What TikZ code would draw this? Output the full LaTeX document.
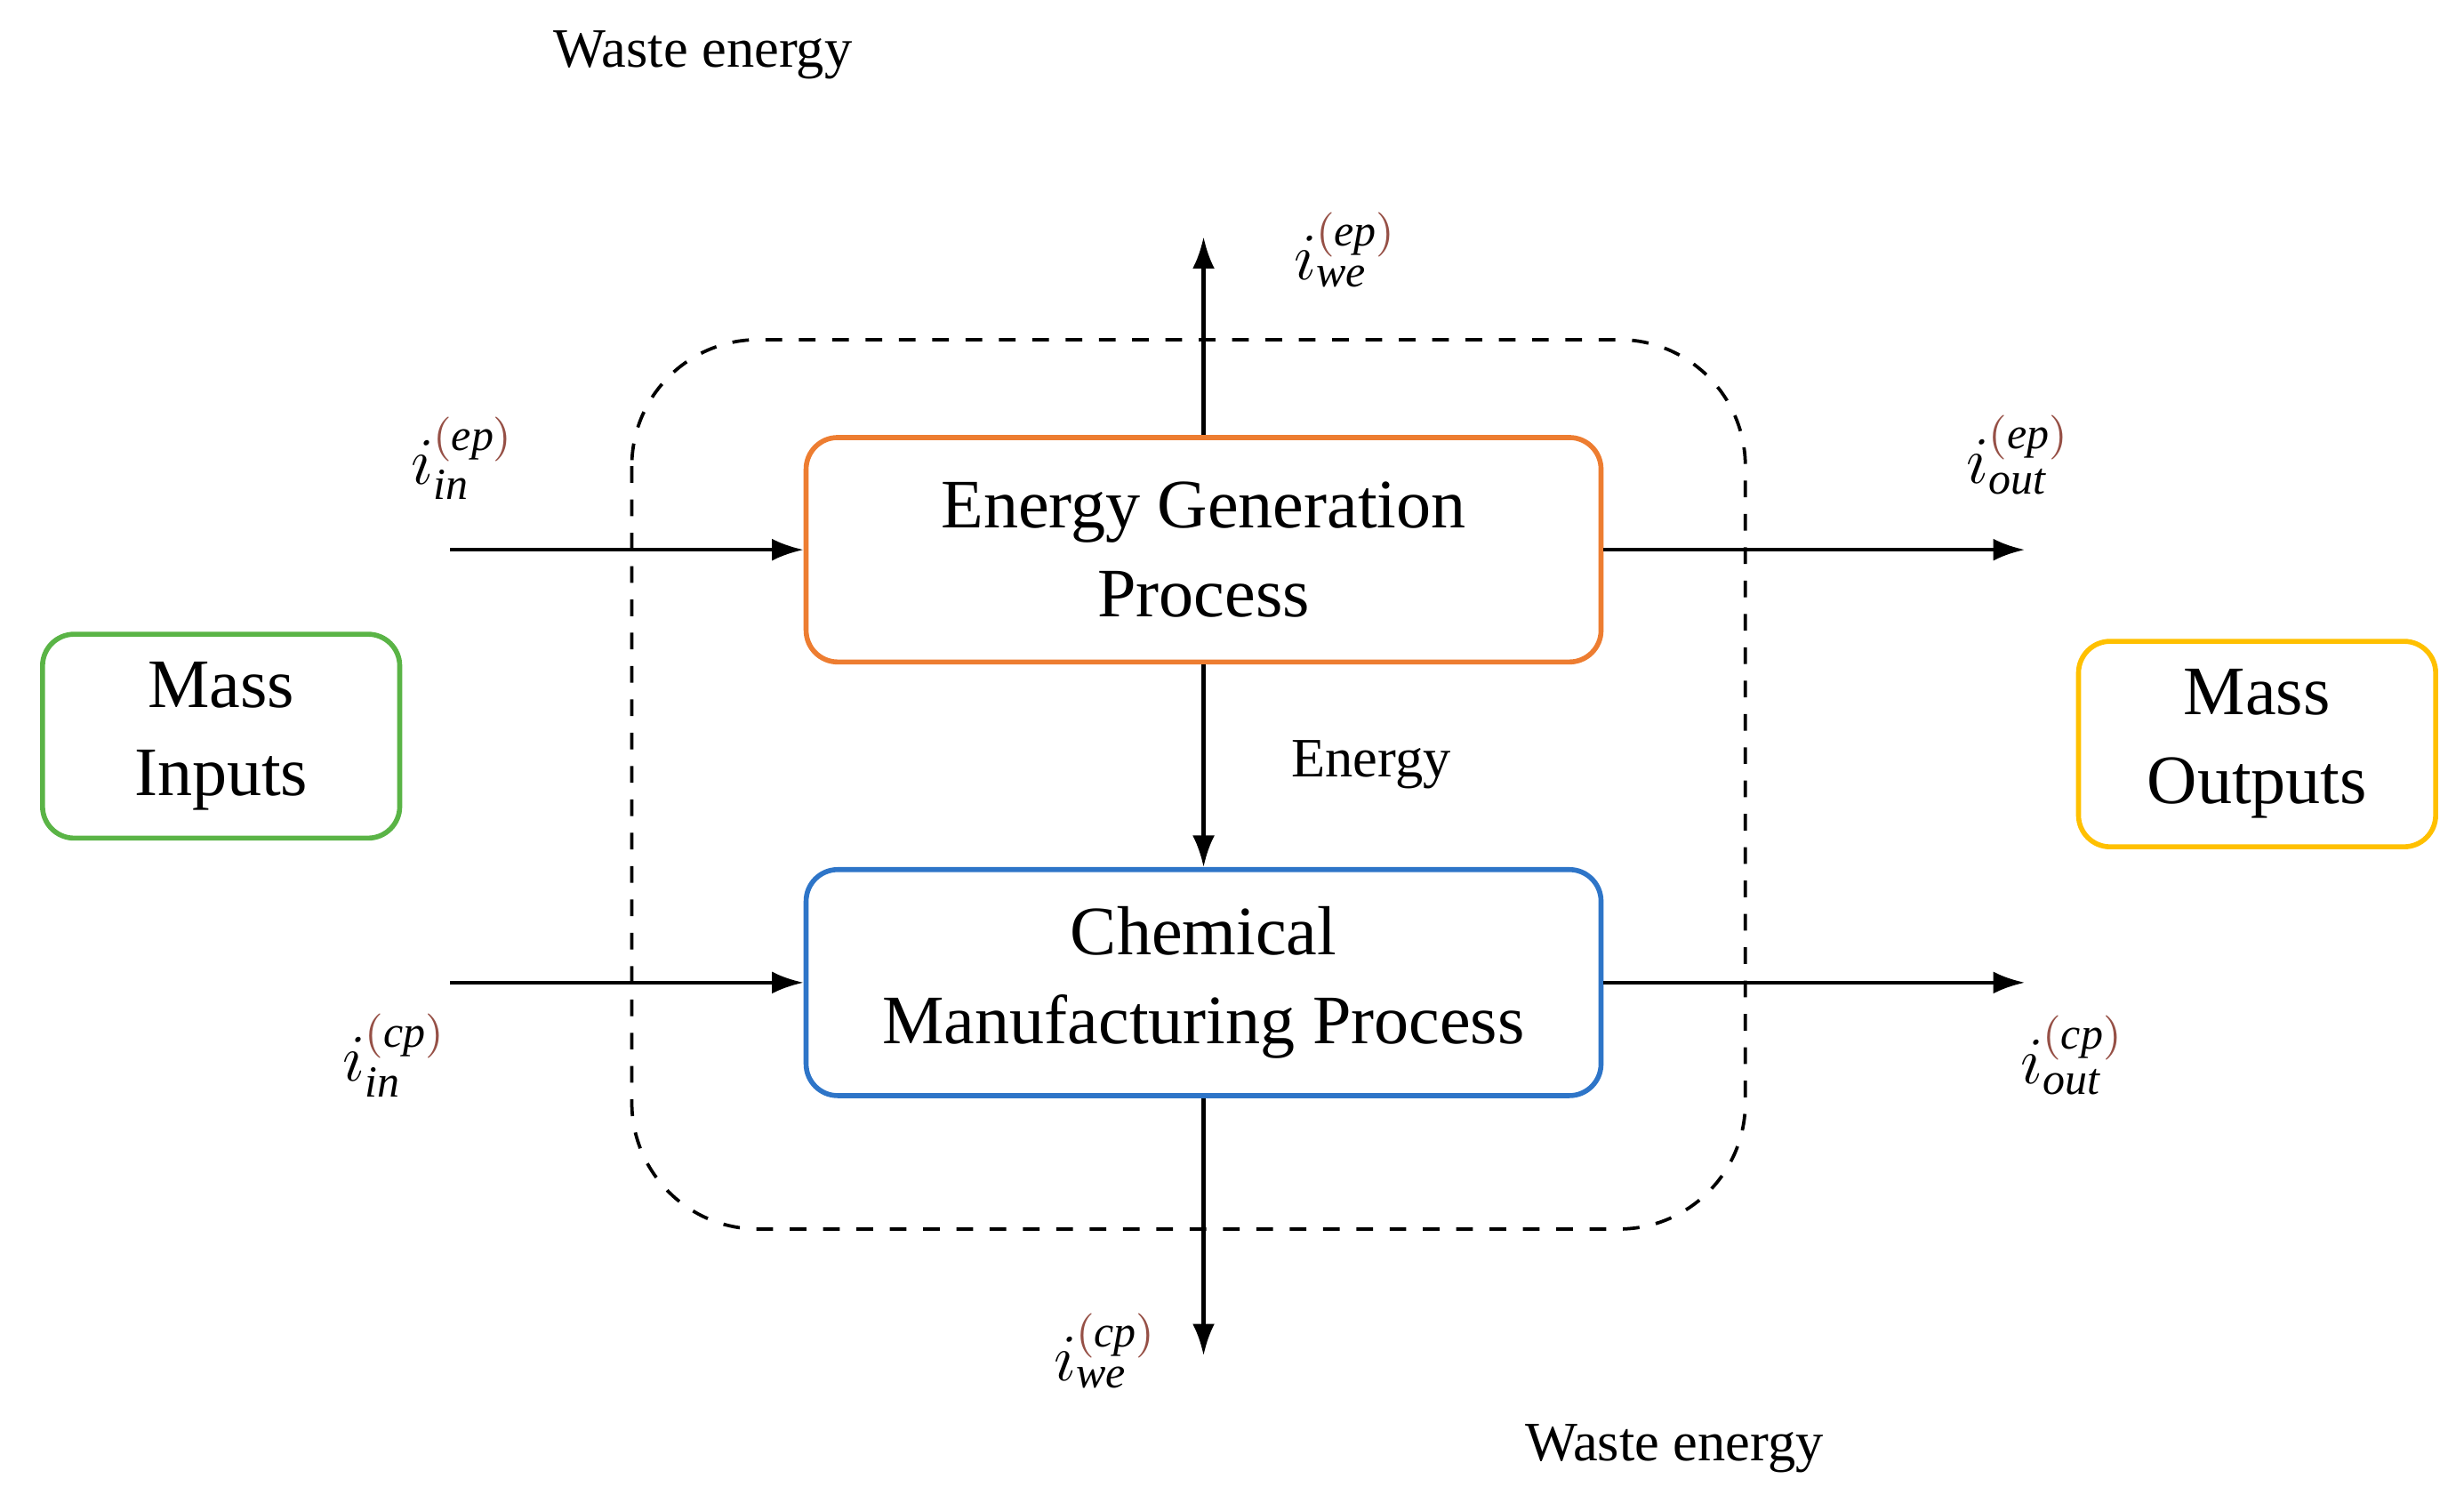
\documentclass[tikz,border=0pt]{standalone}
\usepackage{fontspec}
\setmainfont{Liberation Serif}
\usetikzlibrary{arrows.meta}
\definecolor{og}{RGB}{237,125,49}
\definecolor{bl}{RGB}{46,117,200}
\definecolor{gr}{RGB}{90,180,70}
\definecolor{yl}{RGB}{255,192,0}
\definecolor{br}{RGB}{150,80,70}
\newcommand{\lab}[2]{$i_{\mathit{#1}}^{\textcolor{br}{(}\mathit{#2}\textcolor{br}{)}}$}
\begin{document}
\begin{tikzpicture}[x=0.01cm,y=-0.01cm,
 box/.style={draw,rounded corners=0.2cm,line width=0.9pt,align=center,font=\fontsize{12.5}{16}\selectfont,inner sep=0pt},
 arr/.style={-{Latex[length=0.2cm,width=0.14cm]},line width=0.7pt},
 lbl/.style={font=\fontsize{10}{12}\selectfont},
 ilbl/.style={font=\fontsize{12}{14}\selectfont}]
\useasboundingbox (0,0) rectangle (1560,951);
\draw[dashed,rounded corners=0.8cm,line width=0.6pt] (400,215) rectangle (1105,778);
\node[box,draw=og,minimum width=5.03cm,minimum height=1.42cm] (ep) at (762,348) {Energy Generation\\Process};
\node[box,draw=bl,minimum width=5.03cm,minimum height=1.43cm] (cp) at (762,622) {Chemical\\Manufacturing Process};
\node[box,draw=gr,minimum width=2.26cm,minimum height=1.29cm] (mi) at (140,466) {Mass\\Inputs};
\node[box,draw=yl,minimum width=2.26cm,minimum height=1.3cm] (mo) at (1429,471) {Mass\\Outputs};
\coordinate (a1) at (285,348); \coordinate (a2) at (1282,348);
\coordinate (b1) at (285,622); \coordinate (b2) at (1282,622);
\coordinate (t) at (762,150); \coordinate (bt) at (762,858);
\draw[arr] (a1) -- (ep.west);
\draw[arr] (ep.east) -- (a2);
\draw[arr] (b1) -- (cp.west);
\draw[arr] (cp.east) -- (b2);
\draw[arr] (ep.north) -- (t);
\draw[arr] (ep.south) -- (cp.north);
\draw[arr] (cp.south) -- (bt);
\node[lbl] (w1) at (445,35) {Waste energy};
\node[lbl] (w2) at (1060,917) {Waste energy};
\node[lbl] (en) at (868,484) {Energy};
\node[ilbl] (l1) at (293,290) {\lab{in}{ep}};
\node[ilbl] (l2) at (852,158) {\lab{we}{ep}};
\node[ilbl] (l3) at (1278,288) {\lab{out}{ep}};
\node[ilbl] (l4) at (250,668) {\lab{in}{cp}};
\node[ilbl] (l5) at (1312,668) {\lab{out}{cp}};
\node[ilbl] (l6) at (700,855) {\lab{we}{cp}};
\end{tikzpicture}
\end{document}
